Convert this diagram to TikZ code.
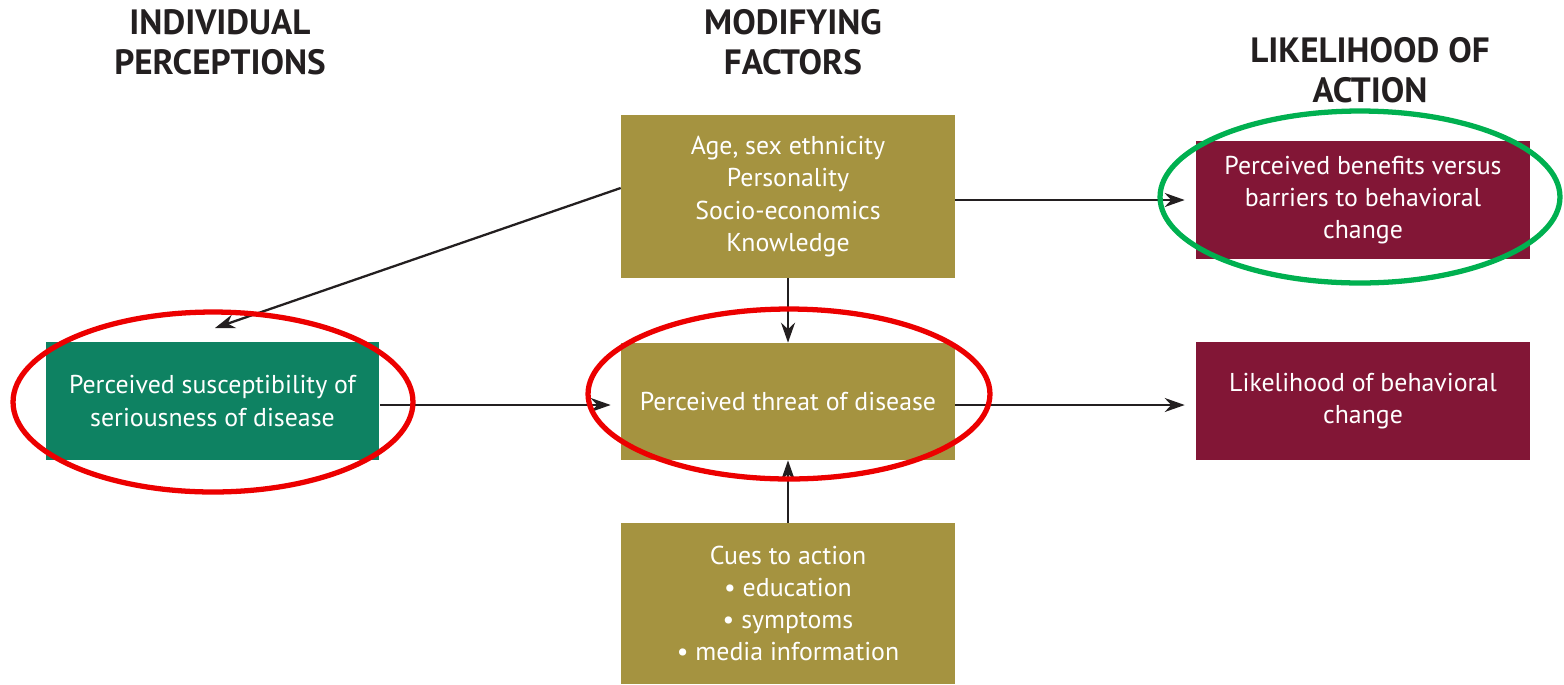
\documentclass[tikz,border=0pt]{standalone}
\usepackage{fontspec}
\setmainfont{PT Sans}
\usepackage{xcolor}
\usetikzlibrary{arrows.meta,positioning}

\definecolor{factorgold}{RGB}{165,147,64}
\definecolor{susgreen}{RGB}{14,130,98}
\definecolor{actionred}{RGB}{130,22,54}
\definecolor{ringred}{RGB}{236,0,0}
\definecolor{ringgreen}{RGB}{0,176,80}
\definecolor{arrowgray}{RGB}{35,31,32}

\begin{document}
\begin{tikzpicture}[x=0.02cm, y=-0.02cm,
  box/.style={fill=#1, text=white, align=center, inner sep=0pt,
    minimum width=6.68cm, font=\fontsize{14.7}{18.3}\selectfont},
  head/.style={font=\bfseries\fontsize{20}{23}\selectfont, align=center, text=arrowgray},
  arr/.style={-{Stealth[length=0.4cm,width=0.28cm]}, line width=1.3pt, arrowgray},
  ring/.style={line width=3pt, draw=#1}]
  \useasboundingbox (0,0) rectangle (1564,684);

  % column headings
  \node[head] (hdPerc) at (220,42) {INDIVIDUAL\\PERCEPTIONS};
  \node[head] (hdMod) at (793,42) {MODIFYING\\FACTORS};
  \node[head] (hdLike) at (1370,70) {LIKELIHOOD OF\\ACTION};

  % boxes
  \node[box=factorgold, minimum height=3.26cm] (factors) at (788,196.5)
    {Age, sex ethnicity\\Personality\\Socio-economics\\Knowledge};
  \node[box=factorgold, minimum height=2.34cm] (threat) at (788,401.5)
    {Perceived threat of disease};
  \node[box=factorgold, minimum height=3.22cm] (cues) at (788,603.5)
    {Cues to action\\\textbullet\ education\\\textbullet\ symptoms\\\textbullet\ media information};
  \node[box=susgreen, minimum height=2.36cm] (sus) at (212.5,401)
    {Perceived susceptibility of\\seriousness of disease};
  \node[box=actionred, minimum height=2.36cm] (benefits) at (1363,200)
    {Perceived benefits versus\\barriers to behavioral\\change};
  \node[box=actionred, minimum height=2.36cm] (likely) at (1363,401)
    {Likelihood of behavioral\\change};

  % connectors
  \coordinate (susTop) at (215,328);
  \draw[arr] ([yshift=0.17cm]factors.west) -- (susTop);
  \draw[arr] (factors) -- (threat);
  \draw[arr] (cues) -- (threat);
  \draw[arr, shorten >=0.2cm] (sus.east |- 0,405) -- (threat.west |- 0,405);
  \draw[arr, shorten >=0.22cm] (threat.east |- 0,405) -- (likely.west |- 0,405);
  \draw[arr, shorten >=0.22cm] (factors.east |- benefits) -- (benefits);

  % highlight rings
  \draw[ring=ringred] (213,402) ellipse [x radius=4cm, y radius=1.8cm];
  \draw[ring=ringred] (789,394) ellipse [x radius=4.02cm, y radius=1.7cm];
  \draw[ring=ringgreen] (1360,197) ellipse [x radius=4cm, y radius=1.72cm];
\end{tikzpicture}
\end{document}
